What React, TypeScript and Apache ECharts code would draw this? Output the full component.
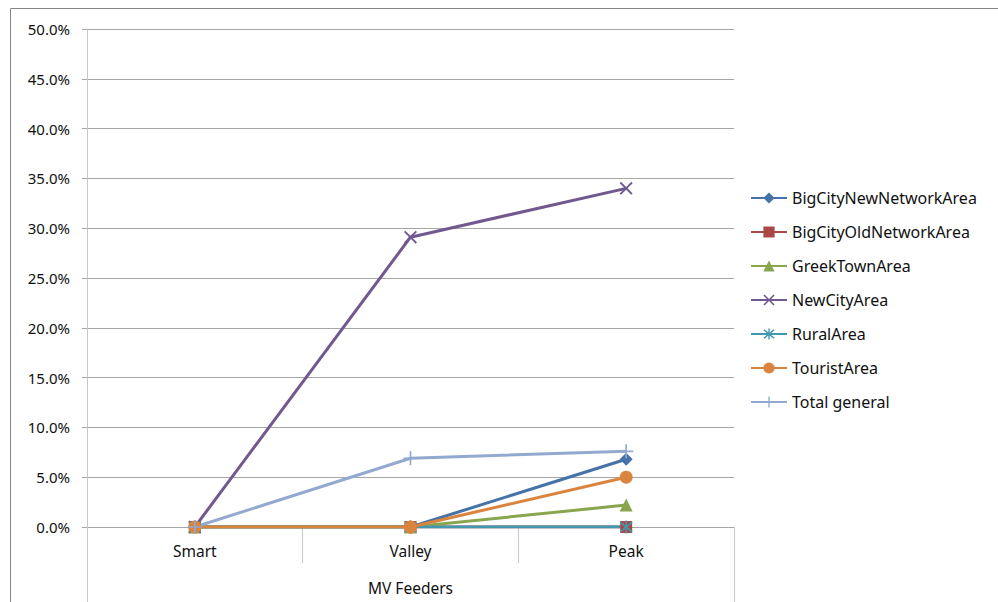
import React, { useEffect, useRef } from "react";
import * as echarts from "echarts";

const categories = ["Smart", "Valley", "Peak"];
const groupLabel = ["MV Feeders"];
const seriesNames = [
  "BigCityNewNetworkArea",
  "BigCityOldNetworkArea",
  "GreekTownArea",
  "NewCityArea",
  "RuralArea",
  "TouristArea",
  "Total general",
];
const bigCityNew = [0, 0, 0.068];
const bigCityOld = [0, 0, 0];
const greekTown = [0, 0, 0.022];
const newCity = [0, 0.291, 0.34];
const rural = [0, 0, 0];
const tourist = [0, 0, 0.05];
const totalGeneral = [0, 0.069, 0.076];

const colors = ["#4572A7", "#AA4643", "#89A54E", "#71588F", "#4198AF", "#DB843D", "#93A9CF"];

const X_PATH =
  "path://M1,0 L5,4 L9,0 L10,1 L6,5 L10,9 L9,10 L5,6 L1,10 L0,9 L4,5 L0,1 Z";
const PLUS_PATH =
  "path://M4.4,0 L5.6,0 L5.6,4.4 L10,4.4 L10,5.6 L5.6,5.6 L5.6,10 L4.4,10 L4.4,5.6 L0,5.6 L0,4.4 L4.4,4.4 Z";
const STAR_PATH =
  "path://M1,0 L5,4 L9,0 L10,1 L6,5 L10,9 L9,10 L5,6 L1,10 L0,9 L4,5 L0,1 Z M4.4,-1 L5.6,-1 L5.6,11 L4.4,11 Z";

const symbols = ["diamond", "rect", "triangle", X_PATH, STAR_PATH, "circle", PLUS_PATH];
const symbolSizes = [13, 12, 13, 13, 13, 13, 14];
const dataSets = [bigCityNew, bigCityOld, greekTown, newCity, rural, tourist, totalGeneral];

const FONT = "'Noto Sans', 'Open Sans', sans-serif";
const GRID_COLOR = "#a6a6a6";
const TEXT = "#111111";

export default function App() {
  const ref = useRef<HTMLDivElement>(null);
  useEffect(() => {
    if (!ref.current) return;
    const chart = echarts.init(ref.current, undefined, { renderer: "svg" });
    chart.setOption({
      animation: false,
      backgroundColor: "#ffffff",
      textStyle: { fontFamily: FONT },
      graphic: [
        {
          type: "rect",
          shape: { x: 10.5, y: 8.5, width: 1100, height: 700 },
          style: { fill: "none", stroke: "#868686", lineWidth: 1 },
          silent: true,
          z: -10,
        },
      ],
      grid: { left: 87, right: 264, top: 29, bottom: 75, containLabel: false },
      legend: {
        orient: "vertical",
        left: 745,
        top: 185,
        itemWidth: 36,
        itemHeight: 14,
        itemGap: 18,
        textStyle: { fontFamily: FONT, fontSize: 16, color: TEXT },
        data: seriesNames,
      },
      xAxis: [
        {
          type: "category",
          data: categories,
          boundaryGap: true,
          axisLine: { show: true, lineStyle: { color: GRID_COLOR, width: 1 } },
          axisTick: { show: true, interval: 0, length: 36, lineStyle: { color: "#c8c8c8" } },
          axisLabel: { margin: 16, fontSize: 15.5, color: TEXT, fontFamily: FONT },
        },
        {
          type: "category",
          data: groupLabel,
          position: "bottom",
          offset: 36,
          boundaryGap: true,
          axisLine: { show: false },
          axisTick: { show: true, interval: 0, length: 40, lineStyle: { color: "#c8c8c8" } },
          axisLabel: { margin: 17, fontSize: 15.5, color: TEXT, fontFamily: FONT },
        },
      ],
      yAxis: {
        type: "value",
        min: 0,
        max: 0.5,
        interval: 0.05,
        axisLine: { show: true, lineStyle: { color: "#c8c8c8" } },
        axisTick: { show: true, length: 5, lineStyle: { color: GRID_COLOR } },
        splitLine: { show: true, lineStyle: { color: GRID_COLOR, width: 1 } },
        axisLabel: {
          margin: 17,
          fontSize: 15,
          color: TEXT,
          fontFamily: FONT,
          formatter: (v: number) => (v * 100).toFixed(1) + "%",
        },
      },
      series: seriesNames.map((name, i) => ({
        name,
        type: "line",
        xAxisIndex: 0,
        data: dataSets[i],
        symbol: symbols[i],
        symbolSize: symbolSizes[i],
        showAllSymbol: true,
        color: colors[i],
        lineStyle: { width: 3, color: colors[i] },
        itemStyle: { color: colors[i] },
        emphasis: { disabled: true },
      })),
    });
    return () => chart.dispose();
  }, []);
  return <div ref={ref} style={{ width: 998, height: 602, position: "absolute", left: 0, top: 0 }} />;
}
